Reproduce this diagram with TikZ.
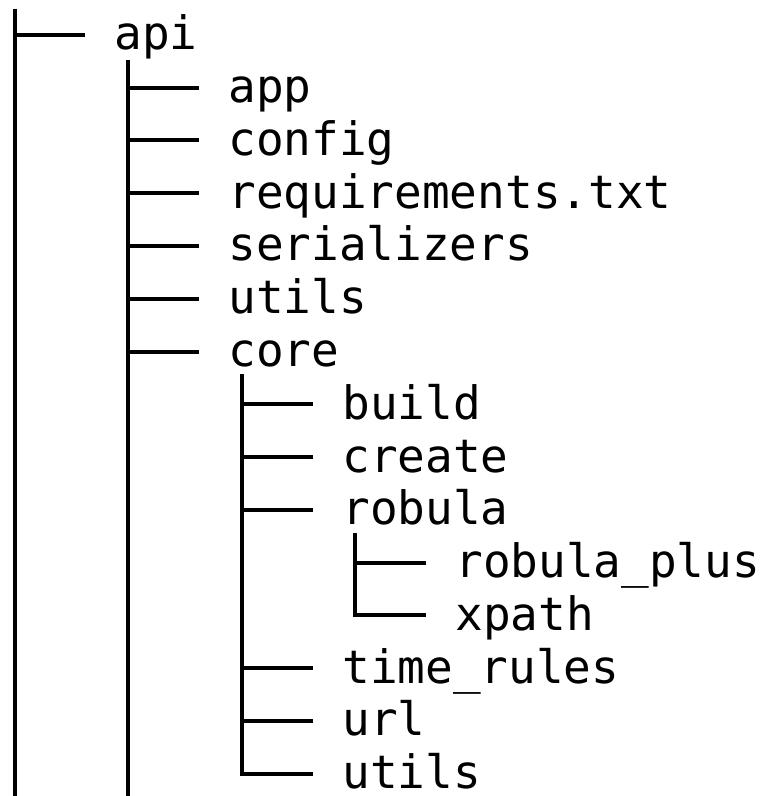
\documentclass[tikz,border=0pt]{standalone}
\usepackage{fontspec}
\setmonofont{DejaVu Sans Mono}
\usepackage{tikz}
\tikzstyle{entry} = [anchor=west, inner xsep=14.5pt, inner ysep=0pt, text height=17pt, text depth=2pt, font=\ttfamily\fontsize{23}{27}\selectfont]
\tikzstyle{branch} = [line width=2pt, draw=black]

\begin{document}
\begin{tikzpicture}[x=0.5pt, y=-0.5pt]
	\useasboundingbox (0,0) rectangle (767,796);
	\coordinate(root_top) at (15,9);
	\coordinate(root_end) at (15,796);
	\coordinate(api_top) at (128,60);
	\coordinate(api_end) at (128,796);
	\coordinate(core_top) at (242,374);
	\coordinate(robula_top) at (355,533);

	\node(api) [entry] at (85,35) {api};
	\node(app) [entry] at (199,87.75) {app};
	\node(config) [entry] at (199,140.5) {config};
	\node(requirements) [entry] at (199,193.25) {requirements.txt};
	\node(serializers) [entry] at (199,246) {serializers};
	\node(utils) [entry] at (199,298.75) {utils};
	\node(core) [entry] at (199,351.5) {core};
	\node(build) [entry] at (313,404.25) {build};
	\node(create) [entry] at (313,457) {create};
	\node(robula) [entry] at (313,509.75) {robula};
	\node(robula_plus) [entry] at (426,562.5) {robula\_plus};
	\node(xpath) [entry] at (426,615.25) {xpath};
	\node(time_rules) [entry] at (313,668) {time\_rules};
	\node(url) [entry] at (313,720.75) {url};
	\node(core_utils) [entry] at (313,773.5) {utils};

	\draw[branch] (root_top) -- (root_end);
	\draw[branch] (root_top |- api.west) -- (api.west);

	\draw[branch] (api_top) -- (api_end);
	\draw[branch] (api_top |- app.west) -- (app.west);
	\draw[branch] (api_top |- config.west) -- (config.west);
	\draw[branch] (api_top |- requirements.west) -- (requirements.west);
	\draw[branch] (api_top |- serializers.west) -- (serializers.west);
	\draw[branch] (api_top |- utils.west) -- (utils.west);
	\draw[branch] (api_top |- core.west) -- (core.west);

	\draw[branch] (core_top) |- (core_utils.west);
	\draw[branch] (core_top |- build.west) -- (build.west);
	\draw[branch] (core_top |- create.west) -- (create.west);
	\draw[branch] (core_top |- robula.west) -- (robula.west);
	\draw[branch] (core_top |- time_rules.west) -- (time_rules.west);
	\draw[branch] (core_top |- url.west) -- (url.west);

	\draw[branch] (robula_top) |- (xpath.west);
	\draw[branch] (robula_top |- robula_plus.west) -- (robula_plus.west);
\end{tikzpicture}
\end{document}
